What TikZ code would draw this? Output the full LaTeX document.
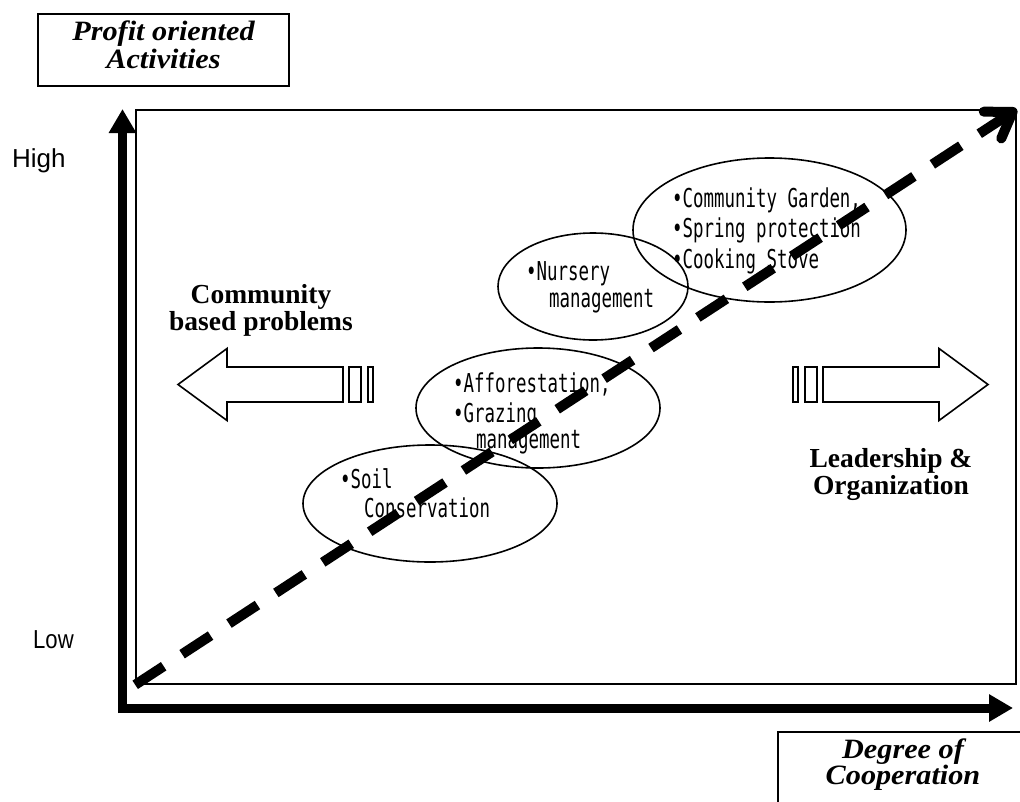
\documentclass[tikz,border=0pt]{standalone}
\usepackage{fontspec}
\setmainfont{Liberation Serif}
\newfontfamily\itemfont[FakeStretch=0.67]{DejaVu Sans Mono}
\newfontfamily\tagfont[FakeStretch=1.08]{Liberation Serif}
\newfontfamily\levelfont{Liberation Sans}
\newfontfamily\levelfontnarrow[FakeStretch=0.85]{Liberation Sans}
\usetikzlibrary{arrows.meta,shapes.geometric}

\tikzset{
  thinline/.style={line width=1.6pt},
  frame/.style={draw, thinline, rectangle, inner sep=0pt,
    minimum width=880pt, minimum height=574pt},
  ell/.style={draw, thinline, ellipse, inner sep=0pt},
  item/.style={anchor=base west, inner sep=0pt,
    font=\itemfont\fontsize{26}{30}\selectfont},
  boldlabel/.style={align=center, inner sep=0pt,
    font=\bfseries\fontsize{27.5}{27}\selectfont},
  tagbox/.style={draw, thinline, rectangle, inner sep=0pt},
  tagtext/.style={align=center, inner sep=0pt},
  level/.style={anchor=base west, inner sep=0pt},
  axis/.style={line width=9pt, -{Triangle[length=24pt,width=26pt]}},
  trend/.style={line width=10pt, dash pattern=on 34pt off 22pt,
    -{Straight Barb[length=24pt,width=32pt,round]}},
  bigarrow/.pic={
    \draw[thinline] (-165,-17.5) -- (-49,-17.5) -- (-49,-36) -- (0,0)
      -- (-49,36) -- (-49,17.5) -- (-165,17.5) -- cycle;
    \draw[thinline] (-183,-17.5) rectangle (-171,17.5);
    \draw[thinline] (-195,-17.5) rectangle (-190,17.5);
  }
}

\begin{document}
\begin{tikzpicture}[x=1pt,y=-1pt]
\useasboundingbox (0,0) rectangle (1020,801);
\clip (0,0) rectangle (1020,801);

% plot area
\node[frame] (frame) at (576,397) {};

% activity clusters
\node[ell, minimum width=254pt, minimum height=117pt] (soil) at (430,503.5) {};
\node[ell, minimum width=244pt, minimum height=120pt] (graze) at (538,408) {};
\node[ell, minimum width=190pt, minimum height=107pt] (nursery) at (593,286.5) {};
\node[ell, minimum width=273pt, minimum height=144pt] (garden) at (769.5,230) {};

\node[item] (t1) at (340,488) {•Soil};
\node[item] (t2) at (364,517) {Conservation};
\node[item] (t3) at (453,392) {•Afforestation,};
\node[item] (t4) at (453,422) {•Grazing};
\node[item] (t5) at (476,448) {management};
\node[item] (t6) at (526,280) {•Nursery};
\node[item] (t7) at (549,307) {management};
\node[item] (t8) at (672,207) {•Community Garden,};
\node[item] (t9) at (672,237) {•Spring protection};
\node[item] (t10) at (672,268) {•Cooking Stove};

% side arrows
\pic[xscale=-1] at (178,384.5) {bigarrow};
\pic at (988,384.5) {bigarrow};
\node[boldlabel] (cbp) at (261,310) {Community\\based problems};
\node[boldlabel] (lead) at (891,474) {Leadership \&\\Organization};

% axis captions
\node[tagbox, minimum width=251pt, minimum height=72pt] (ybox) at (163.5,50) {};
\node[tagtext, font=\tagfont\bfseries\itshape\fontsize{28}{28}\selectfont]
  (ylab) at (ybox.center) [yshift=5pt] {Profit oriented\\Activities};
\node[tagbox, minimum width=252pt, minimum height=90pt] (xbox) at (904,777) {};
\node[tagtext, font=\tagfont\bfseries\itshape\fontsize{28}{26}\selectfont]
  (xlab) at (903,764.5) {Degree of\\Cooperation};

\node[level, font=\levelfont\fontsize{26}{26}\selectfont] (high) at (12,167) {High};
\node[level, font=\levelfontnarrow\fontsize{26}{26}\selectfont] (low) at (33,648) {Low};

% axes
\coordinate (ybase) at (122.5,713);
\coordinate (ytip) at (122.5,109);
\coordinate (xbase) at (118,708);
\coordinate (xtip) at (1013,708);
\draw[axis] (ybase) -- (ytip);
\draw[axis] (xbase) -- (xtip);

% trend
\draw[trend] (frame.south west) -- (frame.north east);
\end{tikzpicture}
\end{document}
